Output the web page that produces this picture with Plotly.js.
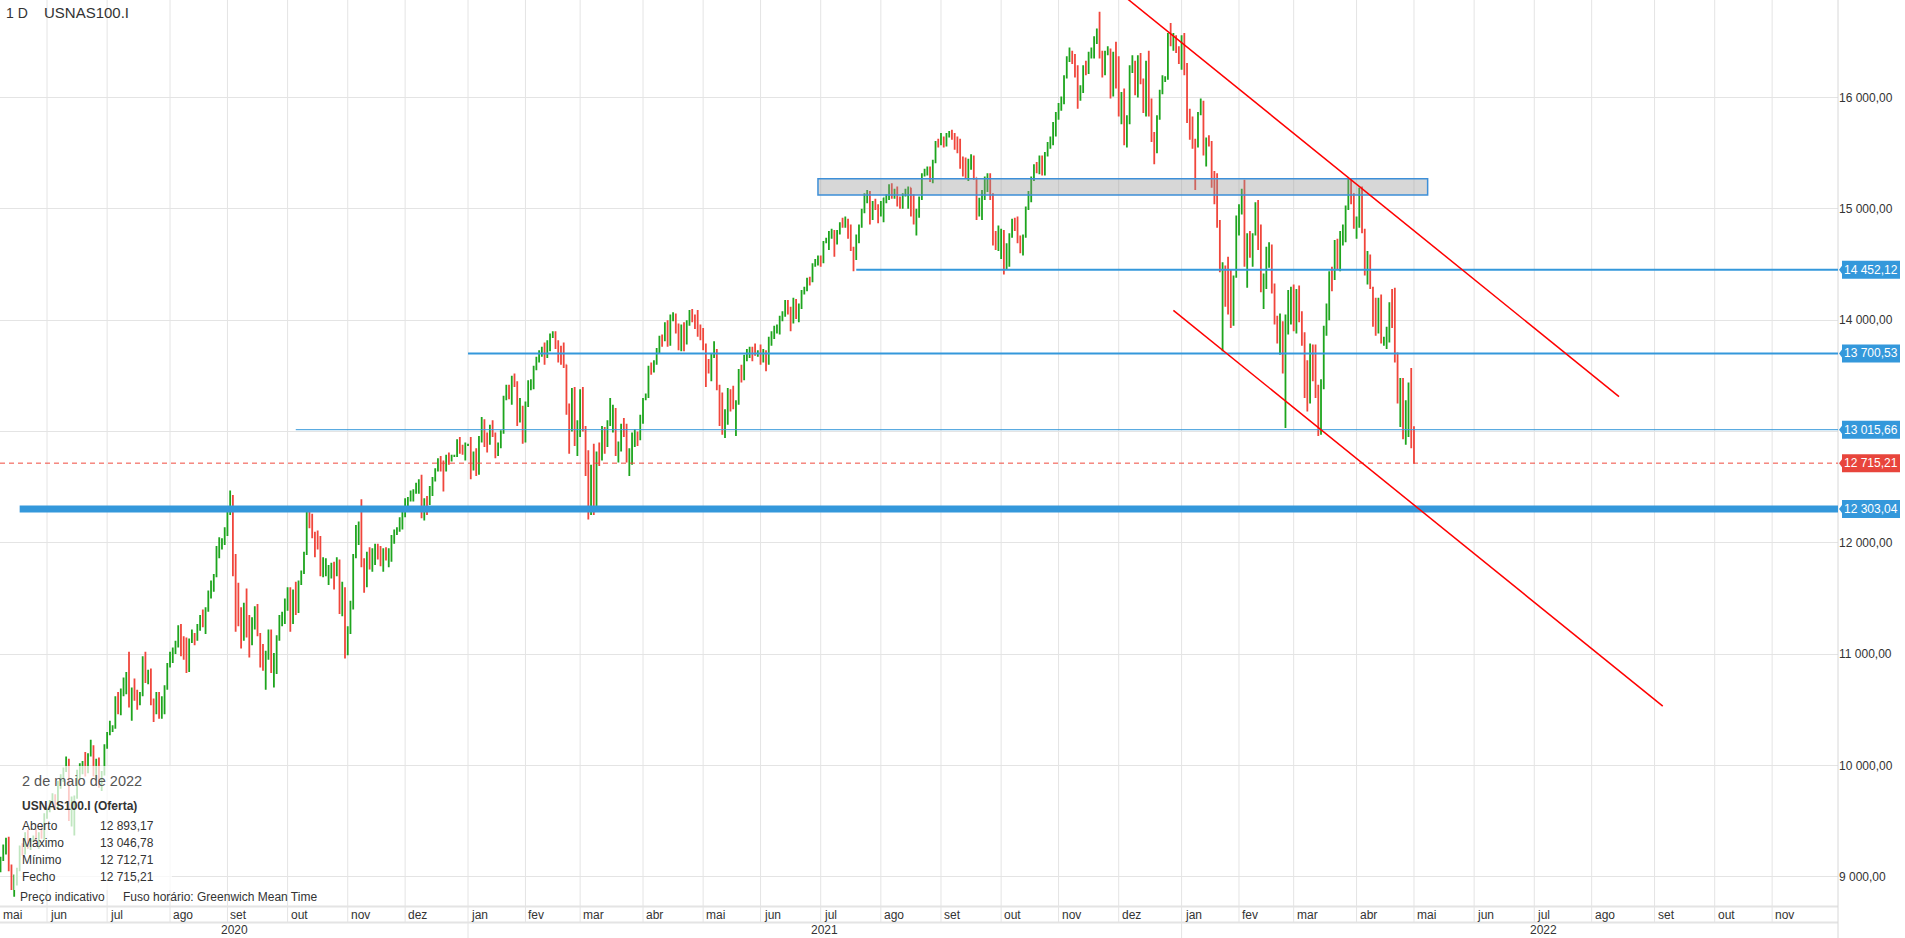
<!DOCTYPE html>
<html><head><meta charset="utf-8">
<script src="https://cdn.plot.ly/plotly-3.0.1.min.js"></script>
<style>html,body{margin:0;padding:0;background:#fff;overflow:hidden}#chart{width:1905px;height:938px}</style>
</head><body><div id="chart"></div>
<script>
// ---------------- DATA ----------------
// daily bars, consecutive weekdays starting at this date
const firstBarDate = '2020-05-06';

const open = [
/*2020-05*/ 9060,9050,9150,9280,9320,9060,8930,9000,9060,9250,9210,9380,9280,9320,9350,9300,9390,9370,
/*2020-06*/ 9550,9600,9670,9720,9630,9830,9910,9960,10040,9530,9610,9710,9900,9980,10020,9960,10100,10140,9940,10050,9830,9930,
/*2020-07*/ 10170,10280,10320,10340,10600,10470,10680,10730,10830,10550,10680,10660,10580,10640,10960,10760,10840,10570,10480,10640,10440,10590,10700,
/*2020-08*/ 10900,11000,11040,11100,11240,11110,11060,10850,11120,11150,11130,11250,11330,11260,11410,11550,11620,11700,11960,11990,12000,
/*2020-09*/ 12110,12290,12420,11780,11620,11300,11140,11430,11210,11090,11240,11310,11170,11030,10940,11000,11180,10850,10900,11150,11300,11330,
/*2020-10*/ 11420,11580,11280,11570,11380,11640,11730,11900,12260,12210,12090,12020,11950,11740,11750,11760,11760,11800,11750,11840,11380,11570,
/*2020-11*/ 11050,11200,11450,11880,12140,12160,11800,11620,11900,11800,11930,11950,11880,11800,11930,11850,11880,12040,12090,12120,12200,
/*2020-12*/ 12250,12370,12390,12400,12460,12520,12560,12300,12380,12370,12440,12580,12650,12740,12720,12680,12780,12740,12780,12780,12850,12840,12830,
/*2021-01*/ 12880,12880,12700,12800,12620,12940,13100,12920,12910,13020,12960,12800,12880,12990,13300,13400,13370,13470,13440,13090,13210,
/*2021-02*/ 12930,13230,13400,13400,13580,13640,13710,13740,13720,13800,13860,13880,13810,13760,13710,13600,13200,13180,13350,12900,
/*2021-03*/ 12960,13360,13010,12620,12400,12670,12300,12790,12750,13030,12940,13090,13160,13200,12800,12860,13030,12980,12730,12800,12980,12980,12930,
/*2021-04*/ 13090,13290,13320,13570,13560,13620,13740,13850,13820,13960,13780,14040,14040,13920,13790,13950,13790,13960,14080,14000,13980,13900,
/*2021-05*/ 13860,13780,13560,13550,13680,13720,13390,13340,12990,13080,13370,13290,13220,13260,13530,13470,13660,13690,13740,13700,13690,
/*2021-06*/ 13700,13680,13720,13610,13820,13880,13910,13910,14020,14070,14170,14070,14040,14160,14030,14140,14260,14270,14370,14360,14500,14530,
/*2021-07*/ 14550,14520,14700,14720,14770,14800,14700,14800,14870,14850,14900,14780,14650,14560,14740,14850,14980,15130,15150,14960,15050,15030,
/*2021-08*/ 14960,14980,15100,15100,15210,15140,15150,15080,15040,15130,15170,15190,15050,14870,14940,15090,15300,15340,15350,15250,15420,15600,
/*2021-09*/ 15580,15610,15600,15650,15680,15670,15610,15520,15370,15360,15320,15440,15470,15280,14950,14960,15100,15250,15300,15130,14690,14660,
/*2021-10*/ 14690,14800,14460,14650,14750,14870,14830,14700,14630,14750,15010,15150,15280,15390,15370,15470,15340,15500,15560,15600,15770,
/*2021-11*/ 15850,15920,16000,16180,16350,16380,16350,16260,15980,16050,16270,16250,16380,16380,16520,16570,16380,16340,16400,16430,16030,16380,
/*2021-12*/ 16130,15850,16000,15630,15770,16270,16320,16030,16360,16140,15960,16300,15880,15660,15510,15830,16050,16160,16170,16560,16490,16500,16440,
/*2022-01*/ 16320,16500,16280,15790,15770,15610,15600,15850,15910,15510,15610,15600,15210,15050,14850,14440,14480,14150,14110,13980,14390,
/*2022-02*/ 14930,15020,15150,14500,14720,14600,14770,15040,14760,14290,14300,14640,14660,14260,14010,13860,13880,13540,14000,14240,
/*2022-03*/ 14250,13990,14250,14050,13840,13320,13260,13760,13600,13320,13050,13450,13940,14130,14420,14380,14700,14480,14790,14800,15020,15230,15100,
/*2022-04*/ 14840,14860,15170,14810,14500,14560,14290,13950,13890,14180,13800,13820,13850,14140,13960,13660,13280,13460,12950,13050,13400,
/*2022-05*/ 12893.17
];
const high = [
/*2020-05*/ 9140,9180,9290,9350,9360,9110,9020,9080,9280,9300,9400,9420,9340,9370,9430,9400,9450,9570,
/*2020-06*/ 9620,9690,9750,9740,9860,9920,9980,10080,10060,9720,9730,9960,10020,10040,10120,10110,10230,10180,10060,10070,9950,10190,
/*2020-07*/ 10300,10400,10360,10620,10660,10690,10790,10840,11020,10700,10780,10680,10660,10980,11020,10860,10870,10600,10660,10660,10620,10720,10920,
/*2020-08*/ 11020,11060,11120,11260,11270,11160,11150,11140,11220,11190,11270,11350,11400,11420,11570,11660,11720,11970,12050,12040,12140,
/*2020-09*/ 12300,12470,12430,11900,11640,11420,11460,11590,11350,11330,11430,11450,11190,11090,11030,11220,11220,11010,11170,11350,11380,11500,
/*2020-10*/ 11600,11600,11580,11650,11660,11750,11920,12280,12300,12260,12100,12110,12060,11870,11860,11800,11820,11830,11870,11850,11650,11600,
/*2020-11*/ 11250,11480,11900,12160,12190,12390,11860,11920,11960,11950,11990,11990,11970,11950,11960,11950,12070,12120,12140,12230,12280,
/*2020-12*/ 12400,12410,12470,12480,12540,12570,12610,12400,12420,12510,12590,12670,12760,12780,12740,12790,12810,12790,12790,12930,12950,12880,12900,
/*2021-01*/ 12890,12950,12820,12850,12960,13130,13110,12990,13060,13100,12990,12900,13010,13320,13420,13420,13500,13520,13450,13300,13230,
/*2021-02*/ 13270,13460,13470,13590,13670,13730,13760,13800,13820,13880,13900,13900,13820,13770,13800,13600,13250,13390,13400,13100,
/*2021-03*/ 13380,13400,13050,12830,12700,12890,12820,12900,13050,13040,13100,13300,13240,13210,12910,13070,13120,13070,12850,12990,13020,13000,13150,
/*2021-04*/ 13300,13340,13590,13620,13640,13750,13860,13870,13980,14000,14050,14070,14060,13970,13960,13980,14000,14090,14100,14050,14090,13960,
/*2021-05*/ 13930,13790,13650,13700,13810,13740,13420,13350,13200,13390,13380,13410,13280,13560,13600,13690,13740,13760,13760,13790,13730,
/*2021-06*/ 13780,13740,13730,13850,13900,13950,13960,14040,14080,14180,14180,14120,14200,14190,14150,14270,14300,14380,14390,14510,14550,14580,
/*2021-07*/ 14580,14710,14740,14800,14820,14810,14810,14880,14920,14930,14910,14860,14660,14770,14860,15000,15140,15170,15160,15070,15090,15040,
/*2021-08*/ 15070,15100,15130,15220,15230,15180,15200,15110,15140,15180,15200,15190,15130,15000,15110,15320,15360,15380,15380,15440,15610,15630,
/*2021-09*/ 15680,15650,15680,15700,15710,15680,15650,15630,15470,15460,15450,15490,15480,15280,15100,15170,15290,15320,15320,15140,14800,14850,
/*2021-10*/ 14820,14810,14690,14780,14910,14920,14930,14760,14770,15020,15160,15290,15400,15420,15480,15480,15510,15600,15650,15780,15870,
/*2021-11*/ 15950,16010,16200,16370,16450,16420,16390,16290,16110,16290,16330,16410,16450,16550,16620,16770,16420,16420,16460,16440,16410,16500,
/*2021-12*/ 16370,16050,16080,15840,16290,16380,16330,16380,16400,16170,16330,16420,15990,15690,15840,16070,16200,16190,16580,16670,16580,16560,16460,
/*2022-01*/ 16560,16580,16310,15900,15830,15630,15870,15990,15970,15640,15660,15610,15340,15320,14900,14520,14490,14570,14450,14400,14940,
/*2022-02*/ 15040,15180,15260,14780,14800,14780,15060,15080,14860,14420,14660,14700,14680,14330,14040,14060,13990,14050,14270,14300,
/*2022-03*/ 14320,14280,14310,14080,13890,13640,13790,13780,13780,13420,13470,13950,14150,14440,14480,14720,14730,14800,14860,15030,15270,15270,15140,
/*2022-04*/ 14930,15190,15200,14820,14620,14590,14300,14200,14200,14230,13850,13940,14160,14280,14290,13710,13480,13480,13280,13440,13570,
/*2022-05*/ 13046.78
];
const low = [
/*2020-05*/ 9010,9040,9140,9200,9050,8880,8820,8920,9050,9190,9200,9250,9240,9310,9290,9250,9340,9330,
/*2020-06*/ 9520,9580,9650,9600,9610,9790,9850,9940,9500,9450,9370,9700,9880,9920,9900,9930,10080,9900,9870,9800,9770,9910,
/*2020-07*/ 10150,10270,10300,10330,10460,10450,10620,10640,10520,10400,10580,10500,10540,10620,10740,10730,10540,10390,10460,10420,10420,10460,10680,
/*2020-08*/ 10880,10920,11000,11060,10980,10950,10830,10840,11100,11080,11120,11210,11240,11180,11380,11500,11560,11690,11860,11940,11980,
/*2020-09*/ 12060,12250,11700,11200,11250,11050,11120,11150,10970,11080,11220,11160,10880,10850,10680,10950,10830,10700,10820,11120,11250,11270,
/*2020-10*/ 11390,11200,11270,11350,11370,11620,11720,11890,12130,12040,11870,11940,11700,11690,11700,11620,11680,11580,11700,11360,11340,10960,
/*2020-11*/ 10990,11180,11400,11860,11980,11780,11550,11600,11760,11740,11800,11850,11790,11740,11840,11780,11830,11990,12070,12100,12120,
/*2020-12*/ 12230,12300,12370,12370,12440,12440,12220,12200,12250,12340,12420,12550,12640,12640,12460,12640,12700,12730,12770,12770,12800,12790,12740,
/*2021-01*/ 12870,12570,12650,12600,12610,12900,12860,12810,12880,12950,12760,12780,12850,12980,13280,13290,13240,13400,13050,13080,12890,
/*2021-02*/ 12900,13220,13370,13380,13550,13620,13670,13600,13660,13720,13840,13740,13620,13600,13570,13150,12800,13000,12870,12780,
/*2021-03*/ 12950,13000,12600,12210,12250,12250,12290,12690,12740,12800,12860,13050,12990,12780,12720,12820,12950,12720,12600,12700,12860,12870,12920,
/*2021-04*/ 13070,13280,13300,13510,13530,13600,13700,13760,13810,13760,13770,13990,13880,13730,13720,13720,13780,13950,13980,13920,13850,13820,
/*2021-05*/ 13730,13400,13520,13450,13660,13370,13050,12970,12940,13060,13180,13200,12960,13240,13440,13460,13630,13660,13630,13680,13670,
/*2021-06*/ 13600,13620,13540,13600,13770,13830,13880,13870,13990,14030,14050,13900,13970,14010,13980,14100,14230,14260,14310,14340,14480,14490,
/*2021-07*/ 14480,14510,14690,14630,14730,14570,14680,14770,14830,14830,14730,14620,14440,14540,14690,14830,14960,15050,14860,14900,14990,14870,
/*2021-08*/ 14930,14880,15050,15080,15090,15090,15020,15000,15000,15110,15000,14930,14860,14760,14920,15080,15290,15300,15240,15230,15410,15550,
/*2021-09*/ 15570,15550,15560,15640,15620,15530,15500,15360,15290,15270,15250,15350,15260,14900,14930,14900,15080,15150,15080,14670,14630,14620,
/*2021-10*/ 14550,14410,14450,14480,14740,14800,14690,14600,14580,14740,14990,15060,15250,15320,15310,15300,15300,15470,15540,15570,15650,
/*2021-11*/ 15800,15880,15940,16170,16320,16300,16180,15900,15970,16040,16200,16210,16350,16350,16480,16350,16180,16200,16380,15990,16010,16080,
/*2021-12*/ 15830,15760,15570,15550,15760,16220,16020,16000,16120,15860,15830,15830,15600,15400,15500,15800,16030,16140,16160,16460,16420,16400,16300,
/*2022-01*/ 16250,16200,15770,15620,15540,15170,15550,15840,15480,15380,15560,15190,15040,14830,14430,13720,14120,14050,13930,13950,14380,
/*2022-02*/ 14760,14950,14480,14290,14560,14480,14760,14630,14250,14100,14280,14470,14240,13960,13790,13690,13520,13030,13870,13960,
/*2022-03*/ 13900,13880,13980,13770,13300,13180,13250,13450,13300,12960,12970,13380,13860,14000,14260,14360,14460,14440,14670,14700,14990,15040,14820,
/*2022-04*/ 14730,14830,14780,14400,14320,14280,13940,13860,13880,13790,13770,13740,13800,13930,13620,13250,13040,12930,12880,12950,12850,
/*2022-05*/ 12712.71
];
const close = [
/*2020-05*/ 9050,9150,9280,9320,9060,8930,9000,9060,9250,9210,9380,9280,9320,9350,9300,9390,9370,9550,
/*2020-06*/ 9600,9670,9720,9630,9830,9910,9960,10040,9530,9610,9710,9900,9980,10020,9960,10100,10140,9940,10050,9830,9930,10170,
/*2020-07*/ 10280,10320,10340,10600,10470,10680,10730,10830,10550,10680,10660,10580,10640,10960,10760,10840,10570,10480,10640,10440,10590,10700,10900,
/*2020-08*/ 11000,11040,11100,11240,11110,11060,10850,11120,11150,11130,11250,11330,11260,11410,11550,11620,11700,11960,11990,12000,12110,
/*2020-09*/ 12290,12420,11780,11620,11300,11140,11430,11210,11090,11240,11310,11170,11030,10940,11000,11180,10850,10900,11150,11300,11330,11420,
/*2020-10*/ 11580,11280,11570,11380,11640,11730,11900,12260,12210,12090,12020,11950,11740,11750,11760,11760,11800,11750,11840,11380,11570,11050,
/*2020-11*/ 11200,11450,11880,12140,12160,11800,11620,11900,11800,11930,11950,11880,11800,11930,11850,11880,12040,12090,12120,12200,12250,
/*2020-12*/ 12370,12390,12400,12460,12520,12560,12300,12380,12370,12440,12580,12650,12740,12720,12680,12780,12740,12780,12780,12850,12840,12830,12880,
/*2021-01*/ 12880,12700,12800,12620,12940,13100,12920,12910,13020,12960,12800,12880,12990,13300,13400,13370,13470,13440,13090,13210,12930,
/*2021-02*/ 13230,13400,13400,13580,13640,13710,13740,13720,13800,13860,13880,13810,13760,13710,13600,13200,13180,13350,12900,12960,
/*2021-03*/ 13360,13010,12620,12400,12670,12300,12790,12750,13030,12940,13090,13160,13200,12800,12860,13030,12980,12730,12800,12980,12980,12930,13090,
/*2021-04*/ 13290,13320,13570,13560,13620,13740,13850,13820,13960,13780,14040,14040,13920,13790,13950,13790,13960,14080,14000,13980,13900,13860,
/*2021-05*/ 13780,13560,13550,13680,13720,13390,13340,12990,13080,13370,13290,13220,13260,13530,13470,13660,13690,13740,13700,13690,13700,
/*2021-06*/ 13680,13720,13610,13820,13880,13910,13910,14020,14070,14170,14070,14040,14160,14030,14140,14260,14270,14370,14360,14500,14530,14550,
/*2021-07*/ 14520,14700,14720,14770,14800,14700,14800,14870,14850,14900,14780,14650,14560,14740,14850,14980,15130,15150,14960,15050,15030,14960,
/*2021-08*/ 14980,15100,15100,15210,15140,15150,15080,15040,15130,15170,15190,15050,14870,14940,15090,15300,15340,15350,15250,15420,15600,15580,
/*2021-09*/ 15610,15600,15650,15680,15670,15610,15520,15370,15360,15320,15440,15470,15280,14950,14960,15100,15250,15300,15130,14690,14660,14690,
/*2021-10*/ 14800,14460,14650,14750,14870,14830,14700,14630,14750,15010,15150,15280,15390,15370,15470,15340,15500,15560,15600,15770,15850,
/*2021-11*/ 15920,16000,16180,16350,16380,16350,16260,15980,16050,16270,16250,16380,16380,16520,16570,16380,16340,16400,16430,16030,16380,16130,
/*2021-12*/ 15850,16000,15630,15770,16270,16320,16030,16360,16140,15960,16300,15880,15660,15510,15830,16050,16160,16170,16560,16490,16500,16440,16320,
/*2022-01*/ 16500,16280,15790,15770,15610,15600,15850,15910,15510,15610,15600,15210,15050,14850,14440,14480,14150,14110,13980,14390,14930,
/*2022-02*/ 15020,15150,14500,14720,14600,14770,15040,14760,14290,14300,14640,14660,14260,14010,13860,13880,13540,14000,14240,14250,
/*2022-03*/ 13990,14250,14050,13840,13320,13260,13760,13600,13320,13050,13450,13940,14130,14420,14380,14700,14480,14790,14800,15020,15230,15100,14840,
/*2022-04*/ 14860,15170,14810,14500,14560,14290,13950,13890,14180,13800,13820,13850,14140,13960,13660,13280,13460,12950,13050,13400,12880,
/*2022-05*/ 12715.21
];

// right-axis ticks; the 13 000,00 label is hidden behind the 13 015,66 tag in the reference
const yTickValues = [9000,10000,11000,12000,13000,14000,15000,16000];
const yTickLabels = ['9 000,00','10 000,00','11 000,00','12 000,00','','14 000,00','15 000,00','16 000,00'];
const monthNames = ['jan','fev','mar','abr','mai','jun','jul','ago','set','out','nov','dez'];
const axisFirstMonth = '2020-05';
const axisLastMonth = '2022-11';

const levelValues = [14452.12, 13700.53, 13015.66, 12715.21, 12303.04];
const levelLabels = ['14 452,12','13 700,53','13 015,66','12 715,21','12 303,04'];
const levelStartDates = ['2021-07-20','2021-01-01','2020-10-06','','2020-05-18'];

const zoneDates = ['2021-06-30','2022-05-09'];
const zonePrices = [15125, 15270];
const channelUpperDates = ['2021-12-06','2022-08-15'];
const channelUpperPrices = [16890, 13313];
const channelLowerDates = ['2021-12-29','2022-09-06'];
const channelLowerPrices = [14088, 10532];

const titleInterval = '1 D';
const titleSymbol = 'USNAS100.I';
const infoDate = '2 de maio de 2022';
const infoSymbol = 'USNAS100.I (Oferta)';
const infoNames = ['Aberto','Máximo','Mínimo','Fecho'];
const infoValues = ['12 893,17','13 046,78','12 712,71','12 715,21'];
const footNotes = ['Preço indicativo','Fuso horário: Greenwich Mean Time'];

// ---------------- LAYOUT / STYLE ----------------
const W = 1905, H = 938, MR = 67, MB = 32;
const PW = W - MR, PH = H - MB;
const xRange = [2.81, 675.1];
const yRange = [8736.8, 16875.9];
const FONT = 'Liberation Sans, Arial, sans-serif';
const GRID = '#e4e4e4';
const BLUE = '#3498db';
const RED_TAG = '#e8453c';
const levelStyles = [
  {color: BLUE, width: 2, dash: 'solid', tag: BLUE},
  {color: BLUE, width: 2, dash: 'solid', tag: BLUE},
  {color: BLUE, width: 1, dash: 'solid', tag: BLUE},
  {color: '#f04a3e', width: 1, dash: '5px,4px', tag: RED_TAG},
  {color: BLUE, width: 7, dash: 'solid', tag: BLUE}
];

// weekday index (trading-day axis without weekends)
const BASE = Date.UTC(2020, 4, 4);
function wIdx(s) {
  const p = s.split('-');
  const d = Math.round((Date.UTC(+p[0], p[1] - 1, +(p[2] || 1)) - BASE) / 864e5);
  const w = Math.floor(d / 7);
  return w * 5 + Math.min(d - 7 * w, 5);
}
const startIdx = wIdx(firstBarDate);
const xs = close.map((_, i) => startIdx + i);

const py = v => 1 - v / PH;       // pixel (from top) -> paper y
const pxp = v => v / PW;          // pixel (from left) -> paper x

const shapes = [];
const annotations = [];

// month grid + labels
let [yy, mm] = axisFirstMonth.split('-').map(Number);
const [ly, lm] = axisLastMonth.split('-').map(Number);
const yearStarts = [];
while (yy < ly || (yy === ly && mm <= lm)) {
  const ds = yy + '-' + String(mm).padStart(2, '0') + '-01';
  const xi = wIdx(ds);
  shapes.push({type: 'line', xref: 'x', yref: 'paper', x0: xi, x1: xi, y0: py(922), y1: 1,
    line: {color: GRID, width: 1}, layer: 'below'});
  annotations.push({xref: 'x', yref: 'paper', x: Math.max(xi, xRange[0]), y: py(915),
    text: monthNames[mm - 1], showarrow: false, xanchor: 'left', yanchor: 'middle', xshift: 1,
    font: {size: 12, color: '#333', family: FONT}});
  if (mm === 1) yearStarts.push({year: yy, x: xi});
  mm++; if (mm > 12) { mm = 1; yy++; }
}
// year row
const paperRightIdx = xRange[0] + (W / PW) * (xRange[1] - xRange[0]);
const yearSegs = [{year: 2020, a: xRange[0]}].concat(yearStarts.map(s => ({year: s.year, a: s.x})));
yearSegs.forEach((s, i) => {
  const b = i + 1 < yearSegs.length ? yearSegs[i + 1].a : paperRightIdx;
  annotations.push({xref: 'x', yref: 'paper', x: (s.a + b) / 2, y: py(930), text: String(s.year),
    showarrow: false, xanchor: 'center', yanchor: 'middle', font: {size: 12, color: '#333', family: FONT}});
});
yearStarts.forEach(s => shapes.push({type: 'line', xref: 'x', yref: 'paper', x0: s.x, x1: s.x,
  y0: py(938), y1: py(922), line: {color: GRID, width: 1}}));
// axis frame lines
shapes.push({type: 'line', xref: 'paper', yref: 'paper', x0: 0, x1: 1, y0: py(906.5), y1: py(906.5), line: {color: GRID, width: 2}});
shapes.push({type: 'line', xref: 'paper', yref: 'paper', x0: 0, x1: 1, y0: py(922.5), y1: py(922.5), line: {color: GRID, width: 2}});
shapes.push({type: 'line', xref: 'paper', yref: 'paper', x0: 1, x1: 1, y0: py(938), y1: 1, line: {color: '#d8d8d8', width: 1}});

// support / resistance zone
shapes.push({type: 'rect', xref: 'x', yref: 'y', x0: wIdx(zoneDates[0]), x1: wIdx(zoneDates[1]),
  y0: zonePrices[0], y1: zonePrices[1], fillcolor: 'rgba(150,150,150,0.38)',
  line: {color: '#3d8fd8', width: 1.5}, layer: 'above'});

// levels
levelValues.forEach((v, i) => {
  const st = levelStyles[i];
  const x0 = levelStartDates[i] ? wIdx(levelStartDates[i]) : xRange[0];
  shapes.push({type: 'line', xref: 'x', yref: 'y', x0: x0, x1: xRange[1], y0: v, y1: v,
    line: {color: st.color, width: st.width, dash: st.dash}, layer: 'above'});
  shapes.push({type: 'path', xref: 'paper', xsizemode: 'pixel', xanchor: 1,
    yref: 'y', ysizemode: 'pixel', yanchor: v,
    path: 'M1,0 L4,-4 L4,-9 L62,-9 L62,9 L4,9 L4,4 Z',
    fillcolor: st.tag, line: {width: 0}, layer: 'above'});
  annotations.push({xref: 'paper', yref: 'y', x: 1, y: v, xshift: 33, xanchor: 'center', yanchor: 'middle',
    text: levelLabels[i], showarrow: false, font: {size: 12, color: '#ffffff', family: FONT}});
});

// channel lines
[[channelUpperDates, channelUpperPrices], [channelLowerDates, channelLowerPrices]].forEach(([d, p]) => {
  shapes.push({type: 'line', xref: 'x', yref: 'y', x0: wIdx(d[0]), x1: wIdx(d[1]), y0: p[0], y1: p[1],
    line: {color: '#ff0000', width: 1.5}, layer: 'above'});
});

// info box background
shapes.push({type: 'rect', xref: 'paper', yref: 'paper', x0: pxp(14), x1: pxp(172), y0: py(890), y1: py(766),
  fillcolor: 'rgba(255,255,255,0.72)', line: {width: 0}, layer: 'above'});

// texts
const txt = (x, y, text, opts) => annotations.push(Object.assign({xref: 'paper', yref: 'paper', x: pxp(x), y: py(y),
  text: text, showarrow: false, xanchor: 'left', yanchor: 'middle', borderpad: 0,
  font: {size: 12, color: '#333', family: FONT}}, opts || {}));
txt(5, 13, titleInterval, {font: {size: 14, color: '#333', family: FONT}});
txt(43, 13, titleSymbol, {font: {size: 15, color: '#333', family: FONT}});
txt(21, 781, infoDate, {font: {size: 14.5, color: '#555', family: FONT}});
txt(21, 806, '<b>' + infoSymbol + '</b>', {font: {size: 12, color: '#333', family: FONT}});
const rowY = [826, 843, 860, 877];
infoNames.forEach((n, i) => {
  txt(21, rowY[i], n);
  txt(155, rowY[i], infoValues[i], {xanchor: 'right'});
});
txt(19, 897, footNotes[0]);
txt(122, 897, footNotes[1]);

const trace = {
  type: 'ohlc', x: xs, open: open, high: high, low: low, close: close,
  increasing: {line: {color: '#1ea51e', width: 1.8}},
  decreasing: {line: {color: '#f0463c', width: 1.8}},
  tickwidth: 0.25, hoverinfo: 'skip', showlegend: false
};

const layout = {
  width: W, height: H,
  margin: {l: 0, r: MR, t: 0, b: MB, pad: 0},
  paper_bgcolor: '#ffffff', plot_bgcolor: '#ffffff',
  font: {family: FONT, size: 12, color: '#333'},
  showlegend: false,
  xaxis: {type: 'linear', range: xRange, showgrid: false, zeroline: false, showline: false,
    showticklabels: false, ticks: '', rangeslider: {visible: false}, fixedrange: true},
  yaxis: {range: yRange, side: 'right', tickvals: yTickValues, ticktext: yTickLabels,
    showgrid: true, gridcolor: GRID, gridwidth: 1, zeroline: false, showline: false, ticks: '',
    tickfont: {size: 12, color: '#333', family: FONT}, fixedrange: true},
  shapes: shapes,
  annotations: annotations
};

Plotly.newPlot('chart', [trace], layout, {displayModeBar: false, staticPlot: true});
</script>
</body></html>
